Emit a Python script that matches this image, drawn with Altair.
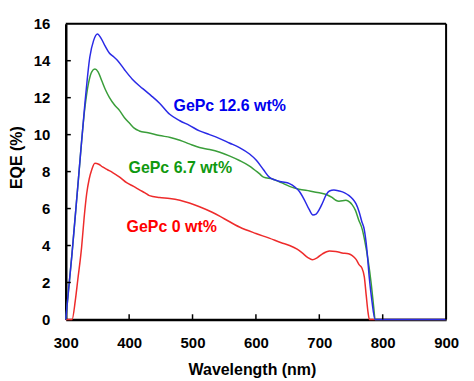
import altair as alt
import pandas as pd

blue_nm = [300, 310, 320, 330, 338, 344, 350, 356, 362, 369, 376, 382, 393, 405, 421, 435, 448, 464, 480, 495, 511, 527, 542, 558, 574, 590, 601, 612, 621, 630, 640, 653, 662, 668, 676, 684, 690, 695, 700, 705, 711, 716, 723, 731, 740, 747, 753, 758, 763, 767, 771, 775, 779, 783, 788, 900]
blue_eqe = [0, 3.6, 7.6, 11.6, 14.2, 15.1, 15.45, 15.2, 14.8, 14.4, 14.2, 14.0, 13.5, 13.0, 12.5, 12.1, 11.7, 11.1, 10.75, 10.5, 10.2, 10.0, 9.8, 9.55, 9.3, 8.95, 8.6, 8.1, 7.7, 7.55, 7.45, 7.35, 7.15, 6.95, 6.5, 5.95, 5.65, 5.7, 5.95, 6.3, 6.75, 6.95, 7.0, 6.95, 6.85, 6.7, 6.5, 6.25, 5.8, 5.3, 4.85, 3.8, 2.2, 1.0, 0, 0]

green_nm = [300, 310, 320, 330, 336, 341, 346, 351, 357, 363, 369, 377, 385, 393, 401, 408, 416, 430, 448, 465, 480, 495, 511, 527, 543, 558, 574, 590, 605, 612, 626, 640, 653, 668, 685, 700, 712, 720, 726, 731, 742, 748, 752, 757, 762, 768, 772, 777, 782, 786, 788, 900]
green_eqe = [0, 3.6, 7.6, 11.4, 12.8, 13.4, 13.55, 13.4, 12.9, 12.4, 12.0, 11.6, 11.3, 10.9, 10.6, 10.35, 10.2, 10.1, 9.95, 9.85, 9.7, 9.5, 9.3, 9.2, 9.05, 8.85, 8.6, 8.3, 7.9, 7.7, 7.6, 7.4, 7.2, 7.05, 6.95, 6.85, 6.75, 6.6, 6.45, 6.4, 6.45, 6.35, 6.2, 5.9, 5.4, 4.85, 4.2, 3.2, 1.9, 0.6, 0, 0]

red_nm = [300, 310, 315, 319, 325, 329, 333, 337, 341, 346, 352, 358, 366, 374, 385, 396, 407, 417, 425, 432, 448, 464, 480, 495, 511, 531, 550, 574, 600, 621, 640, 653, 665, 673, 682, 689, 697, 705, 716, 726, 736, 746, 752, 758, 763, 767, 771, 774, 777, 779, 900]
red_eqe = [0, 0, 1.0, 2.15, 3.9, 5.5, 6.8, 7.6, 8.1, 8.45, 8.4, 8.25, 8.1, 7.95, 7.7, 7.4, 7.2, 7.0, 6.85, 6.7, 6.6, 6.55, 6.45, 6.3, 6.1, 5.8, 5.45, 5.0, 4.65, 4.4, 4.15, 4.0, 3.8, 3.6, 3.35, 3.23, 3.35, 3.55, 3.7, 3.68, 3.6, 3.55, 3.45, 3.25, 2.95, 2.8, 2.3, 1.3, 0.35, 0, 0]

series_names = ["GePc 0 wt%", "GePc 6.7 wt%", "GePc 12.6 wt%"]
line_colors = ["#ee2b2b", "#3a9e3a", "#2a2ae6"]
text_colors = ["#ff0000", "#10990f", "#0000ee"]
label_nm = [396, 399, 470]
label_eqe = [5.01, 8.19, 11.53]

x_tick_values = [300, 400, 500, 600, 700, 800, 900]
y_tick_values = [0, 2, 4, 6, 8, 10, 12, 14, 16]
x_inner_ticks = [400, 500, 600, 700, 800]
y_inner_ticks = [2, 4, 6, 8, 10, 12, 14]

rows = []
for name, xs, ys in zip(series_names, [red_nm, green_nm, blue_nm], [red_eqe, green_eqe, blue_eqe]):
    for i, (a, b) in enumerate(zip(xs, ys)):
        rows.append({"series": name, "nm": a, "eqe": b, "order": i})
df = pd.DataFrame(rows)

labels = pd.DataFrame({"series": series_names, "nm": label_nm, "eqe": label_eqe, "color": text_colors})

W, H = 382, 297
font = "Liberation Sans"

xscale = alt.Scale(domain=[300, 900], nice=False, zero=False)
yscale = alt.Scale(domain=[0, 16], nice=False)

common = dict(grid=False, ticks=False, domainColor="black", domainWidth=2.5,
              labelOverlap=False, labelFlush=False, labelBound=False,
              labelFont=font, labelFontSize=15, labelFontWeight="bold", labelColor="black",
              labelPadding=16, titleFont=font, titleFontSize=16, titleFontWeight="bold",
              titleColor="black", titleBaseline="middle")
xaxis = alt.Axis(values=x_tick_values, title="Wavelength (nm)", titleX=187, titleY=50, **common)
yaxis = alt.Axis(values=y_tick_values, title="EQE (%)", titleX=-49, titleY=134, **common)

lines = alt.Chart(df).mark_line(strokeWidth=1.5, interpolate="monotone").encode(
    x=alt.X("nm:Q", scale=xscale, axis=xaxis),
    y=alt.Y("eqe:Q", scale=yscale, axis=yaxis),
    color=alt.Color("series:N", scale=alt.Scale(domain=series_names, range=line_colors), legend=None),
    order="order:Q",
    detail="series:N",
)

texts = alt.Chart(labels).mark_text(align="left", baseline="middle", font=font,
                                     fontSize=16, fontWeight="bold").encode(
    x=alt.X("nm:Q", scale=xscale, axis=xaxis),
    y=alt.Y("eqe:Q", scale=yscale, axis=yaxis),
    text="series:N",
    color=alt.Color("color:N", scale=None),
)

xt = alt.Chart(pd.DataFrame({"v": x_inner_ticks, "lo": [0] * 5, "hi": [0.28] * 5})).mark_rule(
    color="black", strokeWidth=1.5).encode(
    x=alt.X("v:Q", scale=xscale, axis=xaxis),
    y=alt.Y("lo:Q", scale=yscale, axis=yaxis), y2="hi:Q")
yt = alt.Chart(pd.DataFrame({"v": y_inner_ticks, "lo": [300] * 7, "hi": [308] * 7})).mark_rule(
    color="black", strokeWidth=1.5).encode(
    y=alt.Y("v:Q", scale=yscale, axis=yaxis),
    x=alt.X("lo:Q", scale=xscale, axis=xaxis), x2="hi:Q")

border = pd.DataFrame({"x1": [300, 900], "x2": [900, 900], "y1": [16, 0], "y2": [16, 16]})
frame = alt.Chart(border).mark_rule(color="black", strokeWidth=2).encode(
    x=alt.X("x1:Q", scale=xscale, axis=xaxis), x2="x2:Q",
    y=alt.Y("y1:Q", scale=yscale, axis=yaxis), y2="y2:Q")

chart = alt.layer(lines, xt, yt, frame, texts).properties(
    width=W, height=H,
    autosize=alt.AutoSizeParams(type="none"),
    padding={"left": 58, "top": 15, "right": 20, "bottom": 60},
).configure_view(stroke=None).configure(background="white")

chart.save("out.html", embed_options={"renderer": "svg", "actions": False})
